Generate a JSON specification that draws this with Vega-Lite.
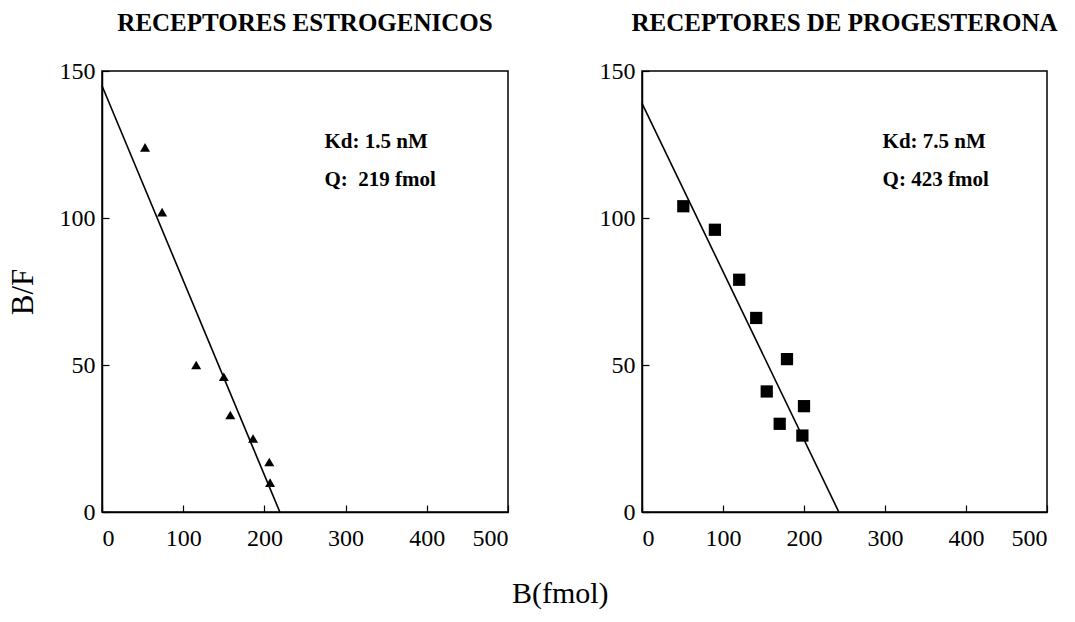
{
  "$schema": "https://vega.github.io/schema/vega-lite/v6.json",
  "background": "white",
  "padding": {"left": 6, "top": 10, "right": 5, "bottom": 5},
  "spacing": 88,
  "title": {"text": "B(fmol)", "orient": "bottom", "anchor": "middle", "font": "Liberation Serif", "fontSize": 30, "fontWeight": "normal", "color": "black", "offset": 28, "dx": 28},
  "datasets": {
    "er_points": [
      {"B": 53, "BF": 124}, {"B": 74, "BF": 102}, {"B": 116, "BF": 50}, {"B": 150, "BF": 46},
      {"B": 158, "BF": 33}, {"B": 186, "BF": 25}, {"B": 206, "BF": 17}, {"B": 207, "BF": 10}
    ],
    "er_line": [{"B": 0, "BF": 145}, {"B": 219, "BF": 0}],
    "er_text": [{"B": 274, "BF": 126, "label": "Kd: 1.5 nM"}, {"B": 274, "BF": 113, "label": "Q:\u00a0 219 fmol"}],
    "pr_points": [
      {"B": 51, "BF": 104}, {"B": 90, "BF": 96}, {"B": 120, "BF": 79}, {"B": 141, "BF": 66},
      {"B": 179, "BF": 52}, {"B": 154, "BF": 41}, {"B": 200, "BF": 36}, {"B": 170, "BF": 30}, {"B": 198, "BF": 26}
    ],
    "pr_line": [{"B": 0, "BF": 139}, {"B": 243, "BF": 0}],
    "pr_text": [{"B": 297, "BF": 126, "label": "Kd: 7.5 nM"}, {"B": 297, "BF": 113, "label": "Q: 423 fmol"}]
  },
  "hconcat": [
    {
      "width": 406,
      "height": 441,
      "title": {"text": "RECEPTORES ESTROGENICOS", "font": "Liberation Serif", "fontSize": 25, "fontWeight": "bold", "color": "black", "offset": 23},
      "layer": [
        {
          "data": {"name": "er_line"},
          "mark": {"type": "line", "color": "black", "strokeWidth": 1.6},
          "encoding": {
            "x": {"field": "B", "type": "quantitative", "scale": {"domain": [0, 500], "nice": false}, "axis": {"title": null, "values": [0, 100, 200, 300, 400, 500]}},
            "y": {"field": "BF", "type": "quantitative", "scale": {"domain": [0, 150], "nice": false}, "axis": {"title": "B/F", "values": [0, 50, 100, 150]}}
          }
        },
        {
          "data": {"name": "er_points"},
          "mark": {"type": "point", "shape": "triangle-up", "filled": true, "color": "black", "size": 100, "opacity": 1},
          "encoding": {
            "x": {"field": "B", "type": "quantitative"},
            "y": {"field": "BF", "type": "quantitative"}
          }
        },
        {
          "data": {"name": "er_text"},
          "mark": {"type": "text", "align": "left", "baseline": "middle", "font": "Liberation Serif", "fontSize": 21, "fontWeight": "bold", "color": "black"},
          "encoding": {
            "x": {"field": "B", "type": "quantitative"},
            "y": {"field": "BF", "type": "quantitative"},
            "text": {"field": "label"}
          }
        }
      ]
    },
    {
      "width": 405,
      "height": 441,
      "title": {"text": "RECEPTORES DE PROGESTERONA", "font": "Liberation Serif", "fontSize": 25, "fontWeight": "bold", "color": "black", "offset": 23},
      "layer": [
        {
          "data": {"name": "pr_line"},
          "mark": {"type": "line", "color": "black", "strokeWidth": 1.6},
          "encoding": {
            "x": {"field": "B", "type": "quantitative", "scale": {"domain": [0, 500], "nice": false}, "axis": {"title": null, "values": [0, 100, 200, 300, 400, 500]}},
            "y": {"field": "BF", "type": "quantitative", "scale": {"domain": [0, 150], "nice": false}, "axis": {"title": null, "values": [0, 50, 100, 150]}}
          }
        },
        {
          "data": {"name": "pr_points"},
          "mark": {"type": "point", "shape": "square", "filled": true, "color": "black", "size": 150, "opacity": 1},
          "encoding": {
            "x": {"field": "B", "type": "quantitative"},
            "y": {"field": "BF", "type": "quantitative"}
          }
        },
        {
          "data": {"name": "pr_text"},
          "mark": {"type": "text", "align": "left", "baseline": "middle", "font": "Liberation Serif", "fontSize": 21, "fontWeight": "bold", "color": "black"},
          "encoding": {
            "x": {"field": "B", "type": "quantitative"},
            "y": {"field": "BF", "type": "quantitative"},
            "text": {"field": "label"}
          }
        }
      ]
    }
  ],
  "config": {
    "view": {"stroke": "black", "strokeWidth": 1.5},
    "axis": {
      "grid": false,
      "domainColor": "black",
      "domainWidth": 1.5,
      "tickColor": "black",
      "tickWidth": 1.2,
      "tickSize": -7,
      "labelFont": "Liberation Serif",
      "labelFontSize": 24,
      "labelColor": "black",
      "titleFont": "Liberation Serif",
      "titleFontSize": 31,
      "titleFontWeight": "normal",
      "titleColor": "black"
    },
    "axisX": {"labelPadding": 21},
    "axisY": {"labelPadding": 14, "titlePadding": 20}
  }
}
